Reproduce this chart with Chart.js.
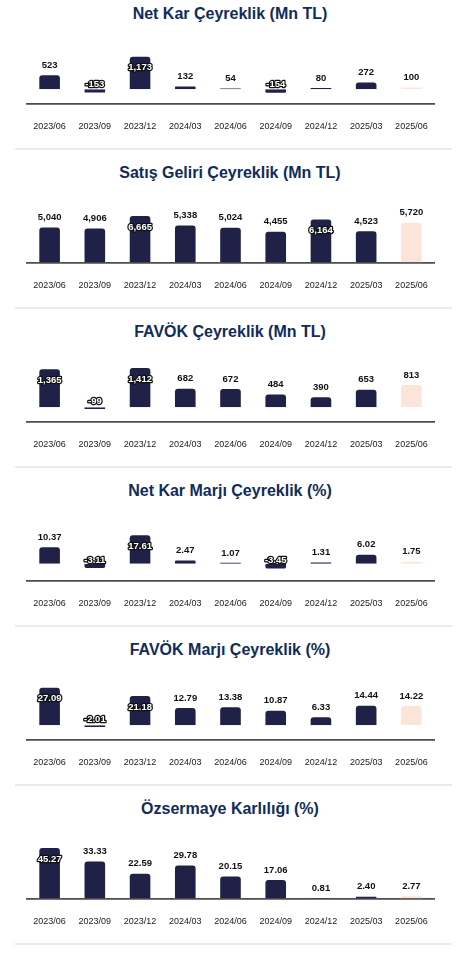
<!DOCTYPE html>
<html>
<head>
<meta charset="utf-8">
<script src="https://cdn.jsdelivr.net/npm/chart.js@4.4.1/dist/chart.umd.min.js"></script>
<style>
    body { margin: 0; background: #fff; }
    #page { position: relative; width: 460px; height: 964px; overflow: hidden; background: #fff; }
    .panel { position: absolute; left: 0; width: 460px; height: 159px; }
    .panel canvas { position: absolute; left: 0; top: 0; }
    .title {
        position: absolute; left: 0; width: 460px; top: 15px;
        text-align: center; line-height: 20px;
        font-family: "Liberation Sans", Arial, sans-serif; font-weight: bold; font-size: 16px;
        color: #0f2c5c;
    }
    .sep { position: absolute; left: 15px; width: 437px; height: 2px; background: #ebebeb; }
</style>
</head>
<body>
<div id="page"></div>
<script>
// quarters on the x axis
var quarters = ["2023/06", "2023/09", "2023/12", "2024/03", "2024/06", "2024/09", "2024/12", "2025/03", "2025/06"];

// series values
var net_kar = [523, -153, 1173, 132, 54, -154, 80, 272, 100];
var satis_geliri = [5040, 4906, 6665, 5338, 5024, 4455, 6164, 4523, 5720];
var favok = [1365, -99, 1412, 682, 672, 484, 390, 653, 813];
var net_kar_marji = [10.37, -3.11, 17.61, 2.47, 1.07, -3.45, 1.31, 6.02, 1.75];
var favok_marji = [27.09, -2.01, 21.18, 12.79, 13.38, 10.87, 6.33, 14.44, 14.22];
var ozsermaye_karliligi = [45.27, 33.33, 22.59, 29.78, 20.15, 17.06, 0.81, 2.40, 2.77];

var bar_color = "#1f2147";
var last_color = "#fbe5d9";
var panel_step = 159.1;
var panel_start = -11.2;

var panels = [
    { title: "Net Kar Çeyreklik (Mn TL)", data: net_kar, min: -500, max: 1500, decimals: 0 },
    { title: "Satış Geliri Çeyreklik (Mn TL)", data: satis_geliri, min: 0, max: 8000, decimals: 0 },
    { title: "FAVÖK Çeyreklik (Mn TL)", data: favok, min: -500, max: 1500, decimals: 0 },
    { title: "Net Kar Marjı Çeyreklik (%)", data: net_kar_marji, min: -10, max: 24, decimals: 2 },
    { title: "FAVÖK Marjı Çeyreklik (%)", data: favok_marji, min: -10, max: 30, decimals: 2 },
    { title: "Özsermaye Karlılığı (%)", data: ozsermaye_karliligi, min: 0, max: 50, decimals: 2 }
];

function format_value(v, decimals) {
    if (decimals === 0) {
        return v.toLocaleString("en-US");
    }
    return v.toFixed(decimals);
}

// value labels: above the bar, or inside when they would leave the chart area
var value_labels = {
    id: "value_labels",
    afterDatasetsDraw: function(chart) {
        var ctx = chart.ctx;
        var area = chart.chartArea;
        var meta = chart.getDatasetMeta(0);
        var values = chart.data.datasets[0].data;
        var decimals = chart.options.plugins.value_labels.decimals;
        ctx.save();
        ctx.font = "bold 9.5px 'Liberation Sans', Arial, sans-serif";
        ctx.textAlign = "center";
        ctx.textBaseline = "middle";
        ctx.lineJoin = "round";
        meta.data.forEach(function(bar, i) {
            var v = values[i];
            var text = format_value(v, decimals);
            var y = bar.y - 9;
            var inverted = false;
            if (v < 0) {
                inverted = true;
            } else if (y - 5 < area.top + 2) {
                y = bar.y + 12;
                inverted = true;
            }
            if (inverted) {
                ctx.lineWidth = 2.5;
                ctx.strokeStyle = "#111";
                ctx.strokeText(text, bar.x, y);
                ctx.fillStyle = "#fff";
                ctx.fillText(text, bar.x, y);
            } else {
                ctx.lineWidth = 2;
                ctx.strokeStyle = "#fff";
                ctx.strokeText(text, bar.x, y);
                ctx.fillStyle = "#111";
                ctx.fillText(text, bar.x, y);
            }
        });
        ctx.restore();
    }
};

var page = document.getElementById("page");

panels.forEach(function(p, k) {
    var top = panel_start + panel_step * k;

    var div = document.createElement("div");
    div.className = "panel";
    div.style.top = top + "px";
    page.appendChild(div);

    var title = document.createElement("div");
    title.className = "title";
    title.textContent = p.title;
    div.appendChild(title);

    var canvas = document.createElement("canvas");
    canvas.width = 460;
    canvas.height = 159;
    div.appendChild(canvas);

    var sep = document.createElement("div");
    sep.className = "sep";
    sep.style.top = (top + panel_step) + "px";
    page.appendChild(sep);

    var last = p.data.length - 1;

    new Chart(canvas, {
        type: "bar",
        data: {
            labels: quarters,
            datasets: [{
                data: p.data,
                backgroundColor: function(c) { return c.dataIndex === last ? last_color : bar_color; },
                borderColor: "#fff",
                borderWidth: 1,
                borderRadius: 4,
                borderSkipped: "start",
                barPercentage: 0.5,
                categoryPercentage: 1
            }]
        },
        options: {
            responsive: false,
            animation: false,
            layout: { padding: { left: 27, right: 26, top: 57.5, bottom: 0 } },
            plugins: {
                legend: { display: false },
                tooltip: { enabled: false },
                value_labels: { decimals: p.decimals }
            },
            scales: {
                x: {
                    grid: { display: false, drawTicks: false },
                    border: { display: true, color: "#4d4d4d", width: 1.8 },
                    ticks: {
                        color: "#1a1a1a",
                        padding: 18,
                        maxRotation: 0,
                        autoSkip: false,
                        font: { family: "'Liberation Sans', Arial, sans-serif", size: 9 }
                    },
                    afterFit: function(scale) { scale.height = 44.5; }
                },
                y: {
                    display: false,
                    min: p.min,
                    max: p.max
                }
            }
        },
        plugins: [value_labels]
    });
});
</script>
</body>
</html>
